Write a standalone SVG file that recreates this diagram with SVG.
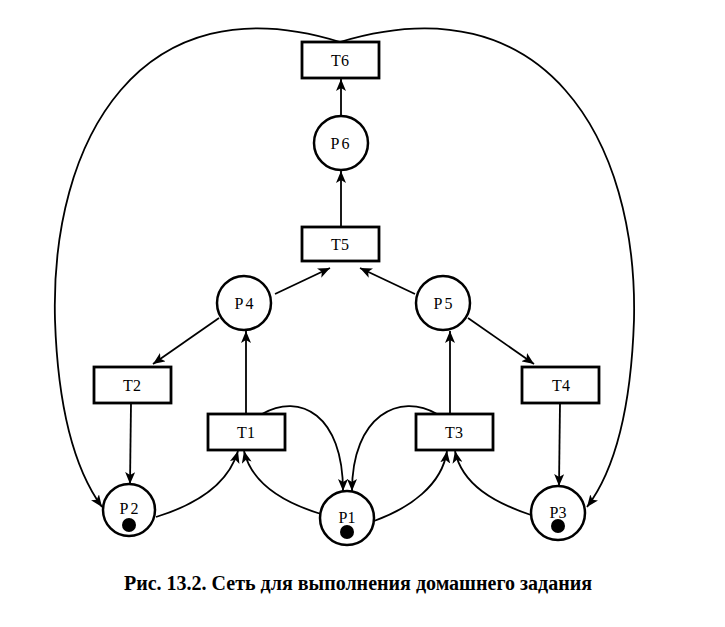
<svg xmlns="http://www.w3.org/2000/svg" width="725" height="627" viewBox="0 0 725 627">
<defs>
<marker id="ah" viewBox="0 0 12 10" refX="12" refY="5" markerWidth="12" markerHeight="10" markerUnits="userSpaceOnUse" orient="auto">
<path d="M0,0 L12,5 L0,10 L3,5 Z" fill="#000"/>
</marker>
<style>
.t rect{fill:#fff;stroke:#000;stroke-width:2.8}
.p circle.c{fill:#fff;stroke:#000;stroke-width:2.5}
.tok{fill:#000}
text{font-family:"Liberation Serif","Times New Roman",serif;font-size:16px;fill:#000;text-anchor:middle}
.e path,.e line{fill:none;stroke:#000;stroke-width:1.8;marker-end:url(#ah)}
.cap{font-weight:bold;font-size:20px}
</style>
</defs>
<rect width="725" height="627" fill="#fff"/>
<g class="e" id="connectors">
<path d="M340,42 C140,-20 50,140 55,320 C58,410 75,470 102,507"/>
<path d="M340,42 C545,-20 638,140 634,320 C631,410 615,470 587,507"/>
<line x1="341" y1="116" x2="341" y2="79"/>
<line x1="341" y1="227" x2="341" y2="171"/>
<line x1="275" y1="294" x2="330" y2="268"/>
<line x1="415" y1="294" x2="360" y2="268"/>
<line x1="219" y1="318" x2="153" y2="364"/>
<line x1="468" y1="318" x2="534" y2="364"/>
<line x1="131" y1="403" x2="130" y2="484"/>
<line x1="246" y1="414" x2="246" y2="331"/>
<line x1="450" y1="414" x2="450" y2="331"/>
<line x1="560" y1="403" x2="559" y2="486"/>
<path d="M156,517 C195,505 228,485 238,451"/>
<path d="M321,514 C285,503 252,485 244,451"/>
<path d="M262,414 C300,392 343,415 343,491"/>
<path d="M437,414 C400,392 352,415 352,491"/>
<path d="M374,521 C410,508 442,485 447,451"/>
<path d="M531,515 C495,503 462,485 455,451"/>
</g>
<g font-family="Liberation Serif, Times New Roman, serif">
<g class="t" id="T6"><rect x="302" y="42" width="77" height="36"/><text x="340" y="66">T6</text></g>
<g class="t" id="T5"><rect x="302" y="227" width="77" height="34"/><text x="340" y="250">T5</text></g>
<g class="t" id="T2"><rect x="94" y="367" width="77" height="36"/><text x="132" y="391">T2</text></g>
<g class="t" id="T1"><rect x="208" y="414" width="77" height="36"/><text x="246" y="438">T1</text></g>
<g class="t" id="T3"><rect x="416" y="414" width="77" height="36"/><text x="454" y="438">T3</text></g>
<g class="t" id="T4"><rect x="522" y="367" width="77" height="36"/><text x="561" y="391">T4</text></g>
<g class="p" id="P6"><circle class="c" cx="341" cy="143" r="27"/><text x="341" y="149" letter-spacing="2">P6</text></g>
<g class="p" id="P4"><circle class="c" cx="244" cy="303" r="27"/><text x="245" y="309" letter-spacing="2">P4</text></g>
<g class="p" id="P5"><circle class="c" cx="443" cy="303" r="27"/><text x="444" y="309" letter-spacing="2">P5</text></g>
<g class="p" id="P2"><circle class="c" cx="129" cy="510" r="26"/><text x="130" y="514" letter-spacing="2">P2</text><circle class="tok" cx="129" cy="525" r="7"/></g>
<g class="p" id="P1"><circle class="c" cx="347" cy="518" r="27"/><text x="347" y="523">P1</text><circle class="tok" cx="347" cy="532" r="7"/></g>
<g class="p" id="P3"><circle class="c" cx="558" cy="513" r="27"/><text x="558" y="518">P3</text><circle class="tok" cx="558" cy="526" r="7"/></g>
<text class="cap" x="358" y="590">Рис. 13.2. Сеть для выполнения домашнего задания</text>
</g>
</svg>
